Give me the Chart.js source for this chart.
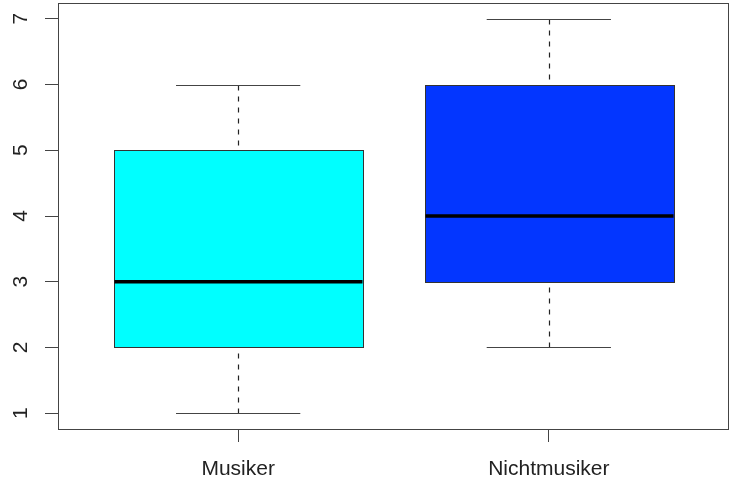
<!DOCTYPE html>
<html>
<head>
<meta charset="utf-8">
<script src="https://cdn.jsdelivr.net/npm/chart.js@4"></script>
<style>
html,body{margin:0;padding:0;background:#fff;}
#wrap{width:730px;height:487px;}
</style>
</head>
<body>
<div id="wrap"><canvas id="c" width="730" height="487"></canvas></div>
<script>
const categories = ["Musiker", "Nichtmusiker"];
const whiskerLow = [1, 2];
const q1 = [2, 3];
const median = [3, 4];
const q3 = [5, 6];
const whiskerHigh = [6, 7];
const fillColors = ["#00FFFF", "#0336FF"];
const yTicks = [1, 2, 3, 4, 5, 6, 7];

const FONT = '21px "Liberation Sans", Arial, Helvetica, sans-serif';
const LINE = '#444';

const boxPlugin = {
  id: 'boxes',
  afterDatasetsDraw(chart) {
    const ctx = chart.ctx, xs = chart.scales.x, ys = chart.scales.y;
    const a = chart.chartArea;
    ctx.save();
    categories.forEach((cat, i) => {
      const pos = i + 1;
      const xl = xs.getPixelForValue(pos - 0.4), xr = xs.getPixelForValue(pos + 0.4);
      const sl = xs.getPixelForValue(pos - 0.2), sr = xs.getPixelForValue(pos + 0.2);
      const xc = xs.getPixelForValue(pos);
      const yq1 = ys.getPixelForValue(q1[i]), yq3 = ys.getPixelForValue(q3[i]);
      const ymed = ys.getPixelForValue(median[i]);
      const ylo = ys.getPixelForValue(whiskerLow[i]), yhi = ys.getPixelForValue(whiskerHigh[i]);
      const r = v => Math.round(v) + 0.5;
      // whiskers (dashed)
      ctx.strokeStyle = '#222';
      ctx.lineWidth = 1.2;
      ctx.setLineDash([5, 6]);
      ctx.beginPath();
      ctx.moveTo(r(xc), r(yhi)); ctx.lineTo(r(xc), r(yq3));
      ctx.moveTo(r(xc), r(ylo)); ctx.lineTo(r(xc), r(yq1));
      ctx.stroke();
      ctx.setLineDash([]);
      ctx.lineWidth = 1;
      // staples
      ctx.strokeStyle = LINE;
      ctx.beginPath();
      ctx.moveTo(sl, r(yhi)); ctx.lineTo(sr, r(yhi));
      ctx.moveTo(sl, r(ylo)); ctx.lineTo(sr, r(ylo));
      ctx.stroke();
      // box
      ctx.fillStyle = fillColors[i];
      ctx.fillRect(r(xl), r(yq3), Math.round(xr - xl), Math.round(yq1 - yq3));
      ctx.strokeStyle = '#333';
      ctx.strokeRect(r(xl), r(yq3), Math.round(xr - xl), Math.round(yq1 - yq3));
      // median
      ctx.strokeStyle = '#000';
      ctx.lineWidth = 3.5;
      ctx.beginPath();
      ctx.moveTo(r(xl), ymed); ctx.lineTo(r(xr), ymed);
      ctx.stroke();
      ctx.lineWidth = 1;
    });
    // frame
    ctx.strokeStyle = LINE;
    ctx.lineWidth = 1;
    ctx.strokeRect(Math.round(a.left) + 0.5, Math.round(a.top) + 0.5,
      Math.round(a.right - a.left) - 1, Math.round(a.bottom - a.top));
    // labels
    ctx.fillStyle = '#222';
    ctx.font = FONT;
    ctx.textAlign = 'center';
    ctx.textBaseline = 'middle';
    xs.ticks.forEach((t, i) => {
      ctx.fillText(categories[i], xs.getPixelForValue(t.value), 469);
    });
    ys.ticks.forEach(t => {
      const py = ys.getPixelForValue(t.value);
      ctx.save();
      ctx.translate(21, py);
      ctx.rotate(-Math.PI / 2);
      ctx.fillText(String(t.value), 0, 0);
      ctx.restore();
    });
    ctx.restore();
  }
};

new Chart(document.getElementById('c'), {
  type: 'scatter',
  data: {
    datasets: [{
      data: categories.map((c, i) => ({ x: i + 1, y: median[i] })),
      pointRadius: 0,
      showLine: false
    }]
  },
  options: {
    responsive: false,
    animation: false,
    events: [],
    layout: { padding: { top: 3, right: 1, left: 0, bottom: 0 } },
    plugins: { legend: { display: false }, tooltip: { enabled: false } },
    scales: {
      x: {
        type: 'linear',
        min: 0.42, max: 2.58,
        afterBuildTicks: s => { s.ticks = categories.map((c, i) => ({ value: i + 1 })); },
        afterFit: s => { s.height = 58; s.paddingLeft = 0; s.paddingRight = 0; },
        ticks: { display: false, font: { size: 1 }, padding: 0 },
        grid: { drawOnChartArea: false, drawTicks: true, tickLength: 13, color: LINE, lineWidth: 1 },
        border: { display: false }
      },
      y: {
        type: 'linear',
        min: 0.76, max: 7.24,
        afterBuildTicks: s => { s.ticks = yTicks.map(v => ({ value: v })); },
        afterFit: s => { s.width = 58; s.paddingTop = 0; s.paddingBottom = 0; },
        ticks: { display: false, font: { size: 1 }, padding: 0 },
        grid: { drawOnChartArea: false, drawTicks: true, tickLength: 13, color: LINE, lineWidth: 1 },
        border: { display: false }
      }
    }
  },
  plugins: [boxPlugin]
});
</script>
</body>
</html>
